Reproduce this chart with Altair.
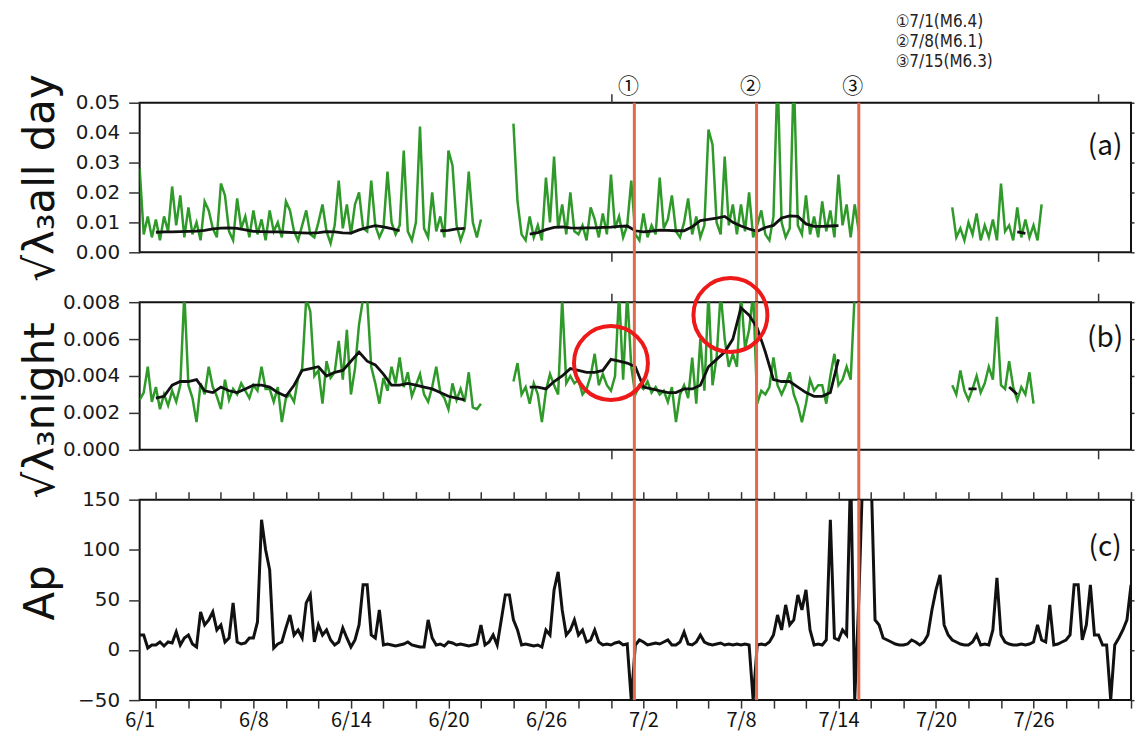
import altair as alt
import pandas as pd

# ---------------- data ----------------
# time axis: day number, 1 = 6/1 00:00, 31 = 7/1, 62 = 8/1
X_DOMAIN = [1, 62]
XLAB_DAYS = [1, 8, 14, 20, 26, 32, 38, 44, 50, 56]
XLAB_TEXT = ["6/1", "6/8", "6/14", "6/20", "6/26", "7/2", "7/8", "7/14", "7/20", "7/26"]
AB_TICK_DAYS = [30, 60]

EVENT_DAYS = [31.44, 38.96, 45.25]
EVENT_MARKS = ["①", "②", "③"]
EVENT_DATES = ["7/1", "7/8", "7/15"]
EVENT_MAGS = ["M6.4", "M6.1", "M6.3"]

RAW_STEP = 0.25   # one sample every 6 h
MA_STEP = 0.5

# (a) sqrt(lambda3) all day, in units of 1e-3
A_RAW_STARTS = [1.0, 24.0, 51.0]
A_RAW_1 = [28, 6, 12, 5, 11, 4, 12, 7, 22, 9, 19, 5, 15, 6, 10, 4, 17, 14, 8, 5,
           23, 19, 7, 4, 18, 8, 12, 5, 14, 6, 11, 4, 14, 7, 10, 5, 17, 14, 7, 4,
           9, 14, 6, 5, 10, 16, 7, 3, 9, 24, 8, 16, 6, 16, 20, 8, 7, 24, 9, 5,
           8, 27, 10, 6, 9, 34, 7, 4, 10, 42, 8, 5, 20, 7, 12, 5, 34, 29, 9, 4,
           8, 27, 10, 5, 11]
A_RAW_2 = [43, 17, 6, 4, 12, 5, 9, 4, 25, 10, 32, 8, 16, 6, 20, 7, 6, 9, 4, 15,
           11, 5, 13, 6, 26, 8, 12, 5, 9, 24, 6, 4, 13, 5, 9, 6, 25, 8, 11, 19,
           7, 5, 10, 18, 6, 12, 5, 9, 41, 36, 10, 6, 32, 9, 16, 6, 16, 7, 20, 5,
           9, 14, 6, 4, 12, 60, 10, 5, 8, 60, 9, 6, 19, 6, 12, 5, 17, 7, 14, 5,
           26, 9, 16, 5, 16, 7]
A_RAW_3 = [15, 5, 8, 4, 10, 6, 13, 4, 9, 5, 11, 4, 23, 7, 9, 4, 15, 5, 11, 5,
           9, 4, 16]
A_MA_STARTS = [2.0, 19.5, 25.0, 55.0]
A_MA_1 = [6.7, 6.8, 6.8, 6.9, 7.0, 7.1, 7.3, 7.8, 8.1, 8.2, 8.0, 7.5, 7.0, 6.9,
          6.8, 6.8, 6.7, 6.6, 6.5, 6.4, 6.6, 6.9, 6.8, 6.5, 6.4, 7.5, 8.3, 8.9,
          8.5, 7.9, 7.2]
A_MA_2 = [7.2, 7.3, 7.8, 8.0]
A_MA_3 = [6.1, 6.6, 7.6, 8.3, 8.5, 8.2, 8.1, 8.2, 8.2, 8.3, 8.4, 8.7, 8.8, 7.2,
          6.8, 7.1, 7.4, 7.3, 7.2, 7.2, 8.5, 10.6, 11.0, 11.4, 12.0, 10.0, 8.8,
          7.8, 7.0, 8.3, 9.0, 11.5, 12.2, 12.0, 9.5, 8.7, 8.7, 8.8, 8.9]
A_MA_4 = [6.8, 6.3]
A_TICKS = [0.0, 0.01, 0.02, 0.03, 0.04, 0.05]

# (b) sqrt(lambda3) night, in units of 1e-3
B_RAW_STARTS = [1.0, 24.0, 51.0]
B_RAW_1 = [2.7, 3.1, 4.5, 2.6, 3.4, 2.2, 3.0, 2.4, 3.2, 2.6, 3.5, 8.5, 3.5, 2.8, 1.5, 3.6,
           3.0, 4.5, 3.4, 2.9, 2.2, 3.8, 2.7, 3.3, 3.0, 3.6, 3.2, 2.8, 3.5, 3.2, 4.5, 3.3,
           3.3, 2.6, 3.4, 1.5, 2.8, 3.0, 2.6, 3.9, 4.4, 8.2, 7.5, 4.0, 4.3, 2.5, 4.8, 3.9,
           4.2, 5.9, 3.8, 6.5, 3.0, 4.4, 6.8, 8.2, 8.2, 4.5, 3.6, 2.5, 3.9, 3.2, 4.5, 3.6,
           5.0, 3.4, 4.2, 2.9, 3.5, 4.1, 3.0, 2.6, 3.4, 4.5, 3.1, 2.8, 2.2, 3.6, 2.7, 3.3,
           2.6, 4.2, 2.3, 2.2, 2.5]
B_RAW_2 = [3.7, 4.7, 3.0, 3.4, 2.5, 3.6, 3.0, 1.5, 3.2, 4.1, 3.5, 3.0, 8.2, 3.6, 4.0, 3.6,
           3.8, 3.0, 3.3, 4.0, 5.2, 3.5, 4.1, 3.5, 3.2, 4.0, 8.5, 3.8, 8.5, 4.5, 3.0, 3.5,
           3.3, 3.7, 3.1, 3.4, 3.0, 3.2, 2.6, 3.4, 1.5, 3.0, 3.5, 2.8, 5.0, 2.5, 6.0, 3.2,
           8.5, 3.5, 5.0, 8.5, 6.0, 4.5, 5.2, 4.5, 8.5, 5.5, 6.5, 8.5, 2.5, 3.2, 3.0, 3.4,
           5.0, 3.5, 3.0, 3.5, 4.2, 3.0, 2.4, 1.5, 2.5, 3.8, 3.2, 3.5, 3.5, 2.5, 4.0, 5.2,
           3.5, 3.8, 4.5, 3.8, 8.5]
B_RAW_3 = [3.5, 3.0, 4.3, 3.2, 2.7, 3.3, 4.0, 3.1, 3.6, 4.5, 3.8, 7.2, 3.5, 3.3, 4.8, 3.4,
           2.7, 3.4, 3.0, 4.2, 2.5]
B_MA_STARTS = [2.0, 25.0, 52.0, 54.5]
B_MA_1 = [2.8, 2.9, 3.5, 3.7, 3.7, 3.8, 3.2, 3.1, 3.4, 3.2, 3.1, 3.3, 3.5, 3.5, 3.4,
          3.1, 2.9, 3.5, 4.3, 4.4, 4.5, 4.0, 4.2, 4.3, 4.8, 5.3, 4.8, 4.6, 4.1, 3.5,
          3.5, 3.6, 3.5, 3.4, 3.3, 3.1, 2.9, 2.8, 2.7]
B_MA_2 = [3.4, 3.4, 3.3, 3.7, 4.0, 4.4, 4.3, 4.2, 4.2, 4.3, 4.9, 4.8, 4.7, 4.5, 3.4,
          3.3, 3.2, 3.1, 3.1, 3.3, 3.3, 3.5, 4.5, 4.9, 5.3, 6.0, 7.7, 7.3, 6.6, 5.3,
          3.8, 3.7, 3.7, 3.4, 3.1, 2.9, 2.9, 3.1, 4.9]
B_MA_3 = [3.3, 3.3]
B_MA_4 = [3.4, 3.0]
B_TICKS = [0.0, 0.002, 0.004, 0.006, 0.008]
CIRCLE_DAYS = [30.0, 37.35]
CIRCLE_VALUES = [0.0047, 0.0073]

# (c) Ap index, every 6 h from 6/1 to 8/1 (values above 150 run off the panel)
AP_START = 1.0
AP = [15, 15, 2, 5, 5, 8, 4, 8, 7, 18, 5, 12, 15, 6, 3, 38, 25, 30, 38, 20,
      25, 8, 12, 47, 8, 6, 7, 12, 12, 28, 130, 100, 80, 2, 6, 8, 22, 35, 15, 20,
      12, 47, 55, 8, 25, 15, 20, 10, 5, 8, 22, 12, 3, 10, 25, 65, 65, 15, 12, 40,
      5, 6, 5, 4, 5, 6, 8, 5, 4, 3, 3, 30, 12, 5, 6, 4, 8, 7, 5, 6,
      5, 4, 5, 6, 25, 5, 8, 15, 5, 30, 55, 55, 30, 20, 5, 6, 5, 4, 5, 3,
      20, 15, 60, 78, 40, 15, 20, 30, 15, 20, 8, 10, 20, 8, 5, 6, 5, 7, 8, 5,
      6, -50, 5, 10, 8, 5, 6, 7, 6, 8, 10, 5, 5, 8, 18, 6, 5, 8, 15, 8,
      6, 5, 6, 7, 5, 6, 5, 6, 5, 6, 5, -50, 5, 6, 5, 8, 15, 35, 20, 45,
      25, 30, 55, 40, 60, 20, 5, 6, 5, 10, 130, 12, 10, 20, 15, 180, -50, 50, 180, 180,
      180, 30, 25, 12, 10, 8, 6, 5, 5, 6, 10, 8, 5, 8, 15, 40, 60, 75, 25, 15,
      10, 8, 6, 5, 5, 8, 15, 5, 6, 5, 20, 72, 15, 8, 6, 5, 5, 6, 5, 6,
      8, 25, 10, 8, 45, 5, 6, 8, 10, 15, 65, 65, 10, 25, 65, 15, 15, 5, 5, -50,
      5, 12, 20, 30, 65]
AP_TICKS = [-50, 0, 50, 100, 150]

PANEL_TAGS = ["(a)", "(b)", "(c)"]
A_TITLE = "√λ₃all day"
B_TITLE = "√λ₃night"
C_TITLE = "Ap"


# ---------------- frames ----------------
def seg_frame(starts, segs, step, scale):
    rows = []
    for k, (s, vals) in enumerate(zip(starts, segs)):
        for i, v in enumerate(vals):
            rows.append({"t": s + i * step, "v": v * scale, "seg": k})
    return pd.DataFrame(rows)


a_raw = seg_frame(A_RAW_STARTS, [A_RAW_1, A_RAW_2, A_RAW_3], RAW_STEP, 1e-3)
a_ma = seg_frame(A_MA_STARTS, [A_MA_1, A_MA_2, A_MA_3, A_MA_4], MA_STEP, 1e-3)
b_raw = seg_frame(B_RAW_STARTS, [B_RAW_1, B_RAW_2, B_RAW_3], RAW_STEP, 1e-3)
b_ma = seg_frame(B_MA_STARTS, [B_MA_1, B_MA_2, B_MA_3, B_MA_4], MA_STEP, 1e-3)
ap_df = seg_frame([AP_START], [AP], RAW_STEP, 1.0)
events = pd.DataFrame({"t": EVENT_DAYS, "mark": EVENT_MARKS})
circles = pd.DataFrame({"t": CIRCLE_DAYS, "v": CIRCLE_VALUES})
note_lines = [f"{m}{d}({g})" for m, d, g in zip(EVENT_MARKS, EVENT_DATES, EVENT_MAGS)]

# ---------------- style ----------------
GREEN = "#2f9a2a"
BLACK = "#111111"
EVENT_RED = "#e2694a"
CIRCLE_RED = "#ee1a1a"
W = 994
H_A, H_B, H_C = 150, 148, 201
GAP = 50
NUM_FONT = "DejaVu Sans"
JP_FONT = "Noto Sans CJK JP"
NOTE_FONT = "DejaVu Sans Condensed"

XSCALE = alt.Scale(domain=X_DOMAIN, nice=False, zero=False)


def xq(axis):
    return alt.X("t:Q", scale=XSCALE, axis=axis, title=None)


def yq(domain, axis):
    return alt.Y("v:Q", scale=alt.Scale(domain=domain, nice=False, zero=False), axis=axis, title=None)


def left_axis(ticks, fmt, title, title_y, title_x=-86):
    return alt.Axis(orient="left", values=ticks, format=fmt, tickSize=11, labelPadding=9,
                    labelFont=NUM_FONT, labelFontSize=20, labelColor="#1a1a1a",
                    domain=False, grid=False, title=title, titleFont=NUM_FONT,
                    titleFontSize=42, titleFontWeight="normal", titleColor="#111",
                    titleAngle=270, titleAlign="center", titleBaseline="alphabetic",
                    titleX=title_x, titleY=title_y)


def right_axis(ticks):
    return alt.Axis(orient="right", values=ticks, labels=False, tickSize=3,
                    domain=False, grid=False, title=None)


def ab_axis(orient):
    return alt.Axis(orient=orient, values=AB_TICK_DAYS, labels=False, tickSize=9,
                    domain=False, grid=False, title=None)


label_expr = " : ".join(f"datum.value == {d} ? '{s}'" for d, s in zip(XLAB_DAYS, XLAB_TEXT)) + " : ''"
c_ticks = [1] + list(range(2, 63, 2))
c_bottom = alt.Axis(orient="bottom", values=c_ticks, labelExpr=label_expr, tickSize=8,
                    tickOpacity={"condition": {"test": "datum.value == 1", "value": 0}, "value": 1},
                    labelFont=JP_FONT, labelFontSize=20, labelPadding=2, labelColor="#111",
                    labelFlush=False, labelOverlap=False, domain=False, grid=False, title=None)
c_top = alt.Axis(orient="top", values=list(range(2, 63, 2)), labels=False, tickSize=8,
                 domain=False, grid=False, title=None)


def event_rules(length):
    return alt.Chart(events).mark_rule(color=EVENT_RED, strokeWidth=3).encode(
        x=xq(None), y=alt.value(0), y2=alt.value(length))


def tag_text(tag, y):
    return alt.Chart(pd.DataFrame({"tag": [tag]})).mark_text(
        font=JP_FONT, fontSize=28, color="#111", align="center", baseline="middle"
    ).encode(x=alt.value(968), y=alt.value(y), text="tag:N")


def note_text(line, y):
    return alt.Chart(pd.DataFrame({"note": [line]})).mark_text(
        font=NOTE_FONT, fontSize=17, color="#222", align="left", baseline="middle"
    ).encode(x=alt.value(758), y=alt.value(y), text="note:N")


# ---------------- panel (a) ----------------
A_DOM = [0, 0.05]
pa_raw = alt.Chart(a_raw).mark_line(color=GREEN, strokeWidth=2.5, clip=True).encode(
    x=xq(ab_axis("bottom")), y=yq(A_DOM, left_axis(A_TICKS, ".2f", A_TITLE, 75)), detail="seg:N")
pa_ma = alt.Chart(a_ma).mark_line(color=BLACK, strokeWidth=2.8, clip=True).encode(
    x=xq(ab_axis("top")), y=yq(A_DOM, right_axis(A_TICKS)), detail="seg:N")
pa_marks = alt.Chart(events).mark_text(font=JP_FONT, fontSize=21, color="#111",
                                       baseline="middle", dx=-6).encode(
    x=xq(None), y=alt.value(-16), text="mark:N")
pa_notes = [note_text(line, -81 + 20 * i) for i, line in enumerate(note_lines)]
panel_a = alt.layer(pa_raw, pa_ma, event_rules(H_A + GAP), pa_marks, *pa_notes,
                    tag_text(PANEL_TAGS[0], 44)).resolve_axis(
    x="independent", y="independent").properties(width=W, height=H_A)

# ---------------- panel (b) ----------------
B_DOM = [0, 0.008]
pb_raw = alt.Chart(b_raw).mark_line(color=GREEN, strokeWidth=2.5, clip=True).encode(
    x=xq(ab_axis("bottom")), y=yq(B_DOM, left_axis(B_TICKS, ".3f", B_TITLE, 108)), detail="seg:N")
pb_ma = alt.Chart(b_ma).mark_line(color=BLACK, strokeWidth=2.8, clip=True).encode(
    x=xq(ab_axis("top")), y=yq(B_DOM, right_axis(B_TICKS)), detail="seg:N")
pb_circ = alt.Chart(circles).mark_point(shape="circle", filled=False, size=5500,
                                        color=CIRCLE_RED, strokeWidth=4, opacity=1).encode(
    x=xq(None), y=yq(B_DOM, None))
panel_b = alt.layer(pb_raw, pb_ma, event_rules(H_B + GAP), pb_circ,
                    tag_text(PANEL_TAGS[1], 37)).resolve_axis(
    x="independent", y="independent").properties(width=W, height=H_B)

# ---------------- panel (c) ----------------
C_DOM = [-50, 150]
pc_line = alt.Chart(ap_df).mark_line(color=BLACK, strokeWidth=3, clip=True).encode(
    x=xq(c_bottom), y=yq(C_DOM, left_axis(AP_TICKS, "d", C_TITLE, 93, -86)), detail="seg:N")
pc_frame = alt.Chart(ap_df).mark_line(opacity=0, clip=True).encode(
    x=xq(c_top), y=yq(C_DOM, right_axis(AP_TICKS)), detail="seg:N")
panel_c = alt.layer(pc_line, pc_frame, event_rules(H_C),
                    tag_text(PANEL_TAGS[2], 48)).resolve_axis(
    x="independent", y="independent").properties(width=W, height=H_C)

chart = alt.vconcat(panel_a, panel_b, panel_c, spacing=GAP, bounds="flush").properties(
    padding={"left": 11, "top": 3, "right": 0, "bottom": 0}, background="white"
).configure_view(stroke="#111", strokeWidth=2).configure_axis(
    tickColor="#333", tickWidth=1.5)

chart.save("out.html", embed_options={"renderer": "svg", "actions": False})
